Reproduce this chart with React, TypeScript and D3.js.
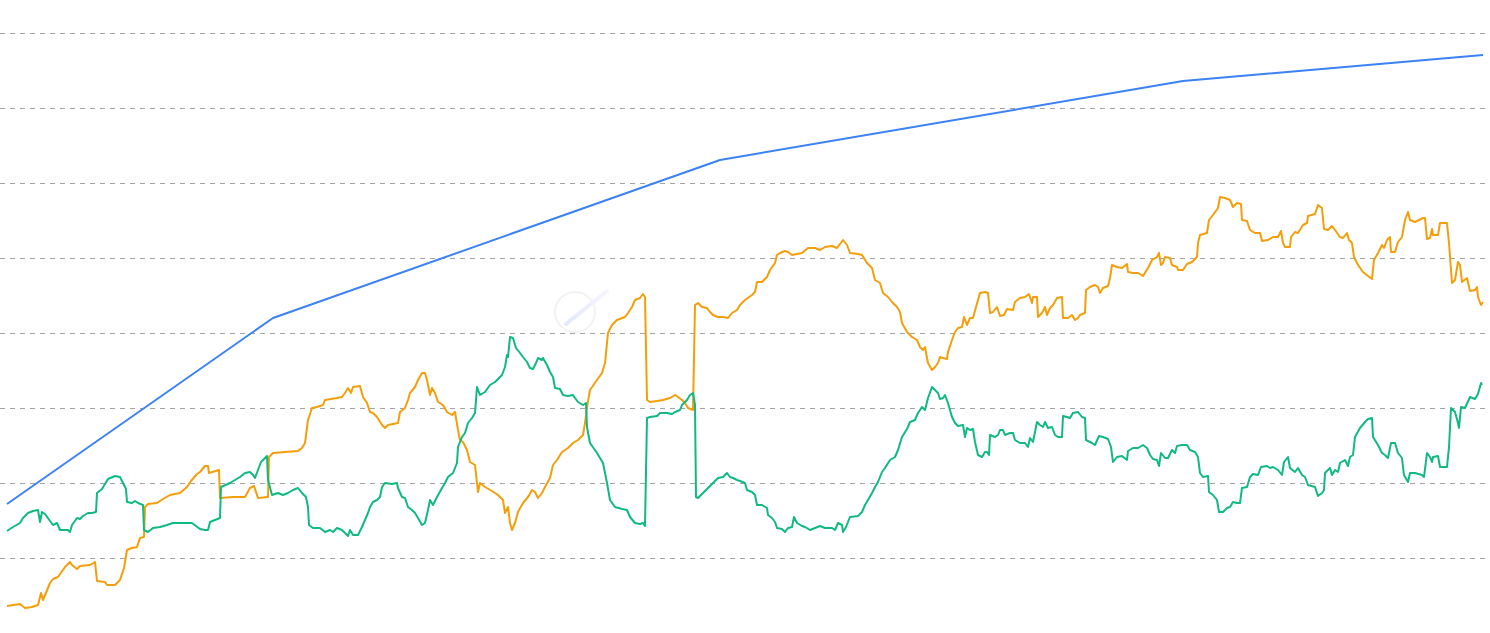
import { useEffect, useRef } from "react";
import * as d3 from "d3";

// [day, value] readings, arbitrary index units (no axis labels shown)
const blueSeries: [number, number][] = [
  [0, 129], [266, 315], [713, 473], [1176, 552], [1476, 578],
];

const orangeSeries: [number, number][] = [
  [0, 27], [13, 29], [18, 25], [25, 26], [31, 28], [34, 40], [36, 33], [43, 50], [46, 54], [51, 56],
  [58, 66], [63, 71], [65, 68], [70, 64], [73, 67], [83, 68], [88, 71], [90, 52], [98, 51], [100, 48],
  [108, 48], [113, 53], [117, 65], [120, 83], [125, 85], [130, 86], [133, 95], [137, 96], [138, 126],
  [141, 129], [150, 130], [156, 134], [163, 138], [173, 140], [180, 146], [184, 152], [190, 159],
  [193, 161], [198, 167], [201, 167], [202, 160], [212, 163], [213, 135], [226, 136], [238, 136],
  [243, 145], [247, 147], [251, 135], [261, 136], [262, 176], [266, 180], [278, 181], [291, 182],
  [295, 185], [298, 190], [301, 213], [305, 225], [310, 226], [316, 228], [318, 233], [330, 235],
  [335, 236], [338, 240], [341, 245], [344, 240], [346, 246], [353, 247], [356, 236], [360, 230],
  [363, 221], [366, 220], [370, 216], [375, 208], [378, 205], [381, 208], [391, 210], [393, 221],
  [398, 225], [401, 233], [403, 240], [408, 246], [411, 253], [415, 260], [418, 260], [420, 253],
  [423, 238], [425, 245], [428, 240], [431, 231], [436, 228], [440, 221], [445, 218], [448, 221],
  [451, 203], [453, 193], [456, 191], [460, 183], [463, 171], [468, 168], [470, 150], [471, 141],
  [473, 150], [478, 146], [485, 142], [491, 138], [496, 133], [498, 120], [501, 126], [503, 110],
  [505, 103], [508, 110], [511, 121], [516, 130], [521, 136], [525, 143], [528, 141], [531, 135],
  [535, 140], [538, 146], [543, 155], [546, 168], [550, 173], [555, 181], [561, 185], [566, 190],
  [571, 193], [576, 198], [578, 210], [580, 226], [583, 243], [590, 253], [595, 260], [598, 270],
  [601, 300], [605, 308], [610, 313], [618, 316], [621, 320], [625, 326], [628, 333], [633, 335],
  [636, 339], [638, 336], [640, 233], [643, 231], [650, 232], [656, 233], [663, 235], [668, 238],
  [671, 236], [675, 233], [678, 230], [681, 225], [686, 223], [688, 328], [691, 330], [695, 326],
  [700, 325], [703, 321], [706, 318], [711, 316], [716, 316], [721, 315], [725, 320], [730, 323],
  [733, 328], [738, 333], [745, 338], [748, 341], [750, 351], [755, 351], [760, 356], [763, 363],
  [768, 370], [770, 378], [773, 380], [778, 382], [781, 381], [785, 378], [795, 380], [801, 385],
  [808, 385], [813, 383], [818, 386], [825, 387], [830, 385], [833, 389], [836, 393], [840, 388],
  [843, 380], [851, 379], [855, 378], [860, 370], [865, 365], [868, 353], [873, 350], [876, 340],
  [881, 336], [885, 331], [890, 326], [893, 321], [895, 310], [900, 301], [905, 296], [910, 293],
  [913, 286], [916, 283], [918, 286], [920, 275], [921, 270], [925, 263], [928, 266], [931, 270],
  [933, 276], [936, 275], [940, 274], [941, 281], [945, 293], [948, 301], [951, 305], [955, 306],
  [957, 316], [960, 308], [963, 315], [966, 315], [969, 326], [973, 340], [978, 341], [981, 340],
  [983, 320], [986, 321], [990, 326], [991, 323], [993, 317], [997, 318], [1000, 324], [1006, 323],
  [1008, 331], [1013, 335], [1018, 336], [1022, 339], [1025, 330], [1026, 336], [1030, 336],
  [1031, 316], [1035, 320], [1038, 326], [1040, 318], [1043, 325], [1046, 328], [1050, 335],
  [1055, 336], [1056, 315], [1061, 315], [1065, 318], [1068, 313], [1071, 315], [1073, 318],
  [1078, 320], [1079, 343], [1083, 346], [1088, 348], [1091, 346], [1093, 340], [1096, 345],
  [1101, 347], [1103, 355], [1105, 368], [1110, 366], [1115, 365], [1120, 369], [1121, 361],
  [1126, 360], [1131, 360], [1136, 357], [1141, 365], [1145, 373], [1150, 376], [1152, 380],
  [1154, 368], [1156, 370], [1158, 376], [1163, 375], [1165, 368], [1170, 366], [1171, 363],
  [1176, 363], [1180, 369], [1185, 371], [1190, 376], [1191, 390], [1193, 398], [1200, 400],
  [1202, 413], [1206, 418], [1211, 425], [1213, 436], [1218, 435], [1223, 433], [1226, 426],
  [1230, 430], [1234, 429], [1235, 413], [1240, 412], [1243, 403], [1248, 400], [1253, 400],
  [1255, 392], [1261, 393], [1266, 396], [1271, 396], [1274, 402], [1276, 390], [1278, 386],
  [1283, 386], [1284, 396], [1288, 401], [1291, 400], [1296, 408], [1300, 410], [1301, 417],
  [1308, 419], [1311, 428], [1315, 425], [1317, 404], [1321, 403], [1325, 407], [1328, 403],
  [1333, 396], [1336, 395], [1340, 400], [1342, 393], [1345, 390], [1347, 376], [1351, 368],
  [1356, 361], [1361, 357], [1365, 354], [1367, 373], [1371, 380], [1375, 388], [1377, 385],
  [1380, 393], [1383, 396], [1384, 381], [1388, 381], [1391, 391], [1395, 396], [1398, 413],
  [1401, 421], [1403, 413], [1408, 411], [1416, 415], [1418, 415], [1420, 394], [1423, 395],
  [1425, 404], [1426, 398], [1431, 398], [1433, 410], [1440, 410], [1442, 390], [1445, 350],
  [1448, 353], [1451, 371], [1453, 368], [1455, 351], [1460, 355], [1463, 342], [1468, 343],
  [1470, 346], [1471, 336], [1474, 328], [1476, 331],
];

const greenSeries: [number, number][] = [
  [0, 102], [6, 106], [13, 110], [16, 115], [21, 120], [26, 122], [31, 123], [33, 111], [35, 121],
  [38, 119], [43, 112], [46, 108], [50, 110], [53, 103], [61, 103], [63, 101], [65, 108], [70, 115],
  [73, 114], [76, 117], [81, 120], [85, 120], [89, 121], [90, 140], [95, 144], [98, 149], [101, 154],
  [108, 157], [113, 156], [116, 150], [119, 144], [120, 131], [125, 130], [128, 132], [131, 130],
  [136, 128], [137, 103], [141, 101], [146, 105], [153, 106], [160, 108], [166, 110], [175, 110],
  [181, 110], [185, 110], [193, 104], [198, 103], [201, 103], [203, 111], [208, 113], [213, 115],
  [214, 146], [223, 150], [233, 156], [238, 160], [243, 161], [246, 158], [248, 155], [254, 171],
  [260, 177], [261, 153], [265, 138], [271, 140], [276, 138], [281, 140], [286, 143], [291, 145],
  [295, 140], [299, 136], [301, 126], [302, 108], [306, 105], [313, 105], [318, 101], [323, 103],
  [326, 101], [330, 105], [335, 103], [338, 100], [341, 97], [343, 103], [346, 98], [351, 98],
  [355, 106], [358, 113], [361, 120], [363, 126], [366, 131], [370, 133], [373, 136], [375, 146],
  [378, 150], [385, 149], [390, 150], [391, 145], [395, 136], [398, 135], [401, 126], [405, 123],
  [408, 120], [411, 115], [415, 108], [418, 110], [421, 123], [423, 133], [426, 128], [430, 136],
  [435, 145], [438, 150], [441, 156], [446, 160], [450, 170], [451, 186], [455, 196], [458, 200],
  [461, 210], [465, 215], [468, 220], [470, 246], [473, 238], [478, 241], [483, 248], [488, 251],
  [490, 253], [495, 258], [498, 266], [500, 278], [501, 276], [503, 296], [506, 295], [509, 285],
  [513, 280], [516, 276], [520, 271], [523, 265], [526, 264], [529, 270], [531, 275], [535, 273],
  [536, 275], [540, 268], [543, 261], [546, 256], [548, 245], [553, 244], [556, 238], [561, 237],
  [566, 238], [568, 235], [571, 231], [576, 228], [579, 230], [580, 206], [583, 190], [590, 180],
  [596, 170], [600, 150], [603, 133], [608, 126], [615, 124], [620, 123], [623, 116], [628, 110],
  [633, 109], [636, 110], [638, 107], [640, 215], [643, 216], [650, 217], [653, 220], [660, 220],
  [665, 219], [668, 221], [673, 223], [675, 228], [680, 233], [683, 238], [686, 240], [688, 228],
  [689, 136], [691, 135], [696, 140], [701, 145], [706, 150], [711, 155], [716, 156], [720, 160],
  [723, 156], [726, 155], [730, 153], [733, 152], [738, 150], [740, 143], [745, 141], [748, 138],
  [750, 128], [755, 128], [760, 125], [761, 118], [765, 115], [768, 111], [770, 105], [775, 104],
  [778, 101], [781, 105], [785, 106], [787, 116], [790, 110], [795, 107], [798, 106], [803, 103],
  [808, 105], [813, 107], [818, 105], [825, 105], [828, 103], [831, 110], [835, 108], [836, 101],
  [839, 106], [841, 111], [843, 116], [851, 117], [855, 121], [858, 128], [861, 133], [865, 140],
  [868, 146], [871, 151], [875, 161], [878, 165], [883, 173], [888, 176], [891, 183], [895, 196],
  [900, 204], [903, 211], [908, 213], [911, 220], [915, 226], [918, 223], [921, 235], [925, 246],
  [928, 243], [931, 240], [933, 234], [936, 235], [938, 238], [941, 230], [945, 216], [948, 210],
  [951, 207], [956, 208], [958, 196], [960, 205], [963, 203], [966, 204], [968, 191], [971, 178],
  [975, 176], [978, 181], [980, 181], [982, 178], [983, 198], [988, 196], [991, 198], [993, 203],
  [996, 203], [998, 198], [1003, 200], [1006, 200], [1008, 193], [1013, 190], [1018, 190],
  [1021, 186], [1023, 195], [1026, 191], [1030, 211], [1033, 208], [1036, 206], [1038, 211],
  [1041, 205], [1045, 206], [1048, 198], [1051, 196], [1055, 196], [1056, 217], [1060, 216],
  [1063, 215], [1066, 220], [1071, 221], [1075, 216], [1078, 215], [1079, 193], [1085, 190],
  [1088, 188], [1092, 197], [1096, 196], [1101, 194], [1104, 186], [1106, 171], [1110, 176],
  [1115, 177], [1120, 173], [1121, 182], [1126, 185], [1131, 185], [1136, 188], [1140, 185],
  [1143, 178], [1146, 174], [1150, 173], [1152, 167], [1154, 180], [1158, 175], [1161, 175],
  [1165, 183], [1168, 180], [1170, 187], [1175, 188], [1180, 188], [1183, 183], [1188, 181],
  [1191, 176], [1193, 160], [1196, 156], [1201, 157], [1202, 141], [1206, 138], [1210, 133],
  [1212, 121], [1216, 121], [1220, 125], [1223, 126], [1226, 131], [1230, 130], [1233, 130],
  [1235, 145], [1240, 146], [1243, 156], [1246, 159], [1251, 158], [1254, 166], [1260, 167],
  [1263, 165], [1266, 166], [1271, 163], [1275, 158], [1277, 171], [1281, 176], [1283, 165],
  [1288, 161], [1291, 165], [1295, 158], [1298, 156], [1301, 148], [1308, 146], [1311, 137],
  [1315, 140], [1317, 143], [1318, 160], [1323, 165], [1325, 158], [1328, 163], [1331, 161],
  [1333, 170], [1338, 173], [1341, 167], [1343, 176], [1346, 178], [1348, 196], [1353, 205],
  [1358, 211], [1361, 214], [1365, 215], [1366, 196], [1371, 188], [1375, 180], [1378, 178],
  [1381, 175], [1384, 190], [1388, 190], [1391, 180], [1395, 175], [1396, 166], [1397, 158],
  [1401, 151], [1403, 160], [1408, 160], [1415, 158], [1417, 156], [1420, 180], [1423, 176],
  [1425, 171], [1426, 176], [1431, 177], [1433, 166], [1440, 166], [1442, 186], [1444, 225],
  [1448, 221], [1451, 210], [1452, 205], [1454, 226], [1458, 225], [1463, 236], [1468, 234],
  [1471, 239], [1474, 250], [1475, 248],
];

const gridTicks = [75, 150, 225, 300, 375, 450, 525, 600];

const W = 1490;
const H = 633;

export default function App() {
  const ref = useRef<SVGSVGElement | null>(null);

  useEffect(() => {
    const svg = d3.select(ref.current);
    svg.selectAll("*").remove();

    const x = d3.scaleLinear().domain([0, 1476]).range([7, 1483]);
    const y = d3.scaleLinear().domain([0, 633]).range([H, 0]);

    // grid
    svg
      .append("g")
      .selectAll("line")
      .data(gridTicks)
      .join("line")
      .attr("x1", 0)
      .attr("x2", 1485)
      .attr("y1", (d) => y(d) + 0.5)
      .attr("y2", (d) => y(d) + 0.5)
      .attr("stroke", "#a3a3a3")
      .attr("stroke-width", 1)
      .attr("stroke-dasharray", "5,5");

    // faint watermark
    const wm = svg.append("g").attr("opacity", 0.5);
    wm.append("circle")
      .attr("cx", 575)
      .attr("cy", 312)
      .attr("r", 20)
      .attr("fill", "none")
      .attr("stroke", "#e6e6e6")
      .attr("stroke-width", 2);
    const grad = svg
      .append("defs")
      .append("linearGradient")
      .attr("id", "comet")
      .attr("x1", "0%")
      .attr("y1", "100%")
      .attr("x2", "100%")
      .attr("y2", "0%");
    grad.append("stop").attr("offset", "0%").attr("stop-color", "#c7d2fe");
    grad.append("stop").attr("offset", "100%").attr("stop-color", "#f3e8ff");
    wm.append("line")
      .attr("x1", 566)
      .attr("y1", 324)
      .attr("x2", 607)
      .attr("y2", 291)
      .attr("stroke", "url(#comet)")
      .attr("stroke-width", 4)
      .attr("stroke-linecap", "round");

    const line = d3
      .line<[number, number]>()
      .x((d) => x(d[0]))
      .y((d) => y(d[1]));

    const series: { data: [number, number][]; color: string }[] = [
      { data: orangeSeries, color: "#f59e0b" },
      { data: greenSeries, color: "#10b981" },
      { data: blueSeries, color: "#3b82f6" },
    ];

    series.forEach((s) => {
      svg
        .append("path")
        .attr("d", line(s.data) as string)
        .attr("fill", "none")
        .attr("stroke", s.color)
        .attr("stroke-width", 2)
        .attr("stroke-linejoin", "round");
    });
  }, []);

  return (
    <svg
      ref={ref}
      width={W}
      height={H}
      style={{ position: "absolute", left: 0, top: 0, background: "#fff" }}
    />
  );
}
